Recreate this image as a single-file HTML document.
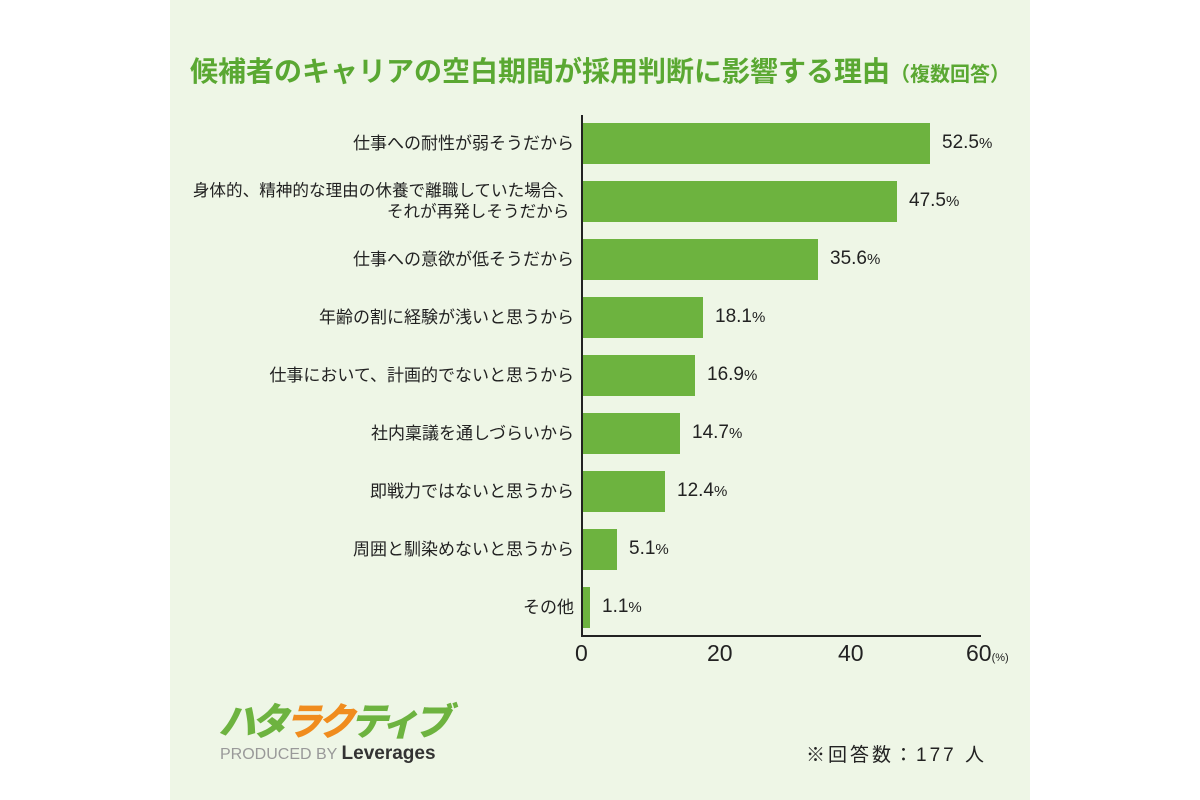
<!DOCTYPE html>
<html><head><meta charset="utf-8"><style>
body{margin:0;width:1200px;height:800px;background:#fff;font-family:"Liberation Sans","Noto Sans CJK JP",sans-serif;position:relative;overflow:hidden}
.panel{position:absolute;left:170px;top:0;width:860px;height:800px;background:#eef6e6}
.t{position:absolute;white-space:nowrap}
.lab{position:absolute;right:626px;font-size:17px;color:#222;text-align:right;line-height:21px;white-space:nowrap}
.bar{position:absolute;left:583px;height:41px;background:#6db33f}
.val{position:absolute;font-size:19px;color:#222}
.val small{font-size:15px}
</style></head><body>
<div class="panel"></div>
<div class="t" style="left:190px;top:50px;font-size:28px;font-weight:bold;color:#5aa832;font-family:'Noto Sans CJK JP',sans-serif;line-height:40px">候補者のキャリアの空白期間が採用判断に影響する理由<span style="font-size:20px">（複数回答）</span></div>
<div style="position:absolute;left:581px;top:115px;width:2px;height:522px;background:#222"></div>
<div style="position:absolute;left:581px;top:635px;width:400px;height:2px;background:#222"></div>

<div class="lab" style="top:133px">仕事への耐性が弱そうだから</div>
<div class="bar" style="top:123px;width:347px"></div><div class="val" style="left:942px;top:132px">52.5<small>%</small></div>

<div class="lab" style="top:180px;font-size:16.6px">身体的、精神的な理由の休養で離職していた場合、<br>それが再発しそうだから&nbsp;</div>
<div class="bar" style="top:181px;width:314px"></div><div class="val" style="left:909px;top:190px">47.5<small>%</small></div>

<div class="lab" style="top:249px">仕事への意欲が低そうだから</div>
<div class="bar" style="top:239px;width:235px"></div><div class="val" style="left:830px;top:248px">35.6<small>%</small></div>

<div class="lab" style="top:307px">年齢の割に経験が浅いと思うから</div>
<div class="bar" style="top:297px;width:120px"></div><div class="val" style="left:715px;top:306px">18.1<small>%</small></div>

<div class="lab" style="top:365px">仕事において、計画的でないと思うから</div>
<div class="bar" style="top:355px;width:112px"></div><div class="val" style="left:707px;top:364px">16.9<small>%</small></div>

<div class="lab" style="top:423px">社内稟議を通しづらいから</div>
<div class="bar" style="top:413px;width:97px"></div><div class="val" style="left:692px;top:422px">14.7<small>%</small></div>

<div class="lab" style="top:481px">即戦力ではないと思うから</div>
<div class="bar" style="top:471px;width:82px"></div><div class="val" style="left:677px;top:480px">12.4<small>%</small></div>

<div class="lab" style="top:539px">周囲と馴染めないと思うから</div>
<div class="bar" style="top:529px;width:34px"></div><div class="val" style="left:629px;top:538px">5.1<small>%</small></div>

<div class="lab" style="top:597px">その他</div>
<div class="bar" style="top:587px;width:7px"></div><div class="val" style="left:602px;top:596px">1.1<small>%</small></div>

<div class="t" style="left:575px;top:640px;font-size:23px;color:#222">0</div>
<div class="t" style="left:707px;top:640px;font-size:23px;color:#222">20</div>
<div class="t" style="left:838px;top:640px;font-size:23px;color:#222">40</div>
<div class="t" style="left:966px;top:640px;font-size:23px;color:#222">60<span style="font-size:11px">(%)</span></div>

<div class="t" style="left:218px;top:697px;font-size:38px;font-weight:900;font-style:italic;letter-spacing:-5px;font-family:'Noto Sans CJK JP',sans-serif;line-height:44px"><span style="color:#6db33f">ハタ</span><span style="color:#f08c1e">ラク</span><span style="color:#6db33f">ティブ</span></div>
<div class="t" style="left:220px;top:743px;font-size:16px;color:#999">PRODUCED BY <b style="color:#333;font-size:19px">Leverages</b></div>
<div class="t" style="left:806px;top:740px;font-size:19px;color:#222;letter-spacing:3px">※回答数：177 人</div>
</body></html>
